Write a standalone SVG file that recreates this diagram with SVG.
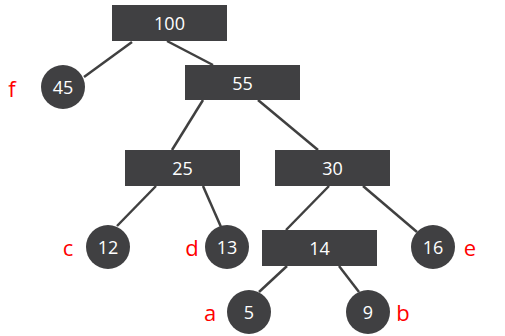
<svg xmlns="http://www.w3.org/2000/svg" width="505" height="336" viewBox="0 0 505 336">
<style>
.n rect,.n circle{fill:#404042}
.n text{fill:#fff;font-family:"Open Sans","Noto Sans",sans-serif;font-size:18px;text-anchor:middle;dominant-baseline:central}
.lbl{fill:#ff0000;font-family:"Open Sans","Noto Sans",sans-serif;font-size:22px;text-anchor:middle;dominant-baseline:central}
#edges line{stroke:#404040;stroke-width:2.5}
</style>
<rect width="505" height="336" fill="#fff"/>
<g id="edges">
<line x1="132" y1="42" x2="84" y2="77"/>
<line x1="167" y1="41" x2="213" y2="65"/>
<line x1="203" y1="100" x2="172" y2="150"/>
<line x1="258" y1="100" x2="318" y2="150"/>
<line x1="156" y1="186" x2="117" y2="226"/>
<line x1="203" y1="186" x2="221" y2="227"/>
<line x1="329" y1="186" x2="286" y2="230"/>
<line x1="363" y1="186" x2="417" y2="232"/>
<line x1="287" y1="266" x2="259" y2="292"/>
<line x1="339" y1="266" x2="359" y2="292"/>
</g>
<g id="n100" class="n"><rect x="112" y="5" width="115" height="36"/><text x="169.5" y="23">100</text></g>
<g id="n45" class="n"><circle cx="63" cy="87" r="22"/><text x="63" y="87">45</text></g>
<g id="n55" class="n"><rect x="185" y="65" width="115" height="35"/><text x="242.5" y="82.5">55</text></g>
<g id="n25" class="n"><rect x="125" y="150" width="115" height="36"/><text x="182.5" y="168">25</text></g>
<g id="n30" class="n"><rect x="275" y="150" width="115" height="36"/><text x="332.5" y="168">30</text></g>
<g id="n12" class="n"><circle cx="108" cy="247" r="22"/><text x="108" y="247">12</text></g>
<g id="n13" class="n"><circle cx="227" cy="247" r="22"/><text x="227" y="247">13</text></g>
<g id="n14" class="n"><rect x="262" y="230" width="115" height="36"/><text x="319.5" y="248">14</text></g>
<g id="n16" class="n"><circle cx="433" cy="247" r="22"/><text x="433" y="247">16</text></g>
<g id="n5" class="n"><circle cx="249" cy="312" r="22"/><text x="249" y="312">5</text></g>
<g id="n9" class="n"><circle cx="368" cy="312" r="22"/><text x="368" y="312">9</text></g>
<g id="labels">
<text class="lbl" x="12" y="88">f</text>
<text class="lbl" x="68" y="247">c</text>
<text class="lbl" x="192" y="247">d</text>
<text class="lbl" x="470" y="247">e</text>
<text class="lbl" x="210" y="312">a</text>
<text class="lbl" x="403" y="312">b</text>
</g>
</svg>
